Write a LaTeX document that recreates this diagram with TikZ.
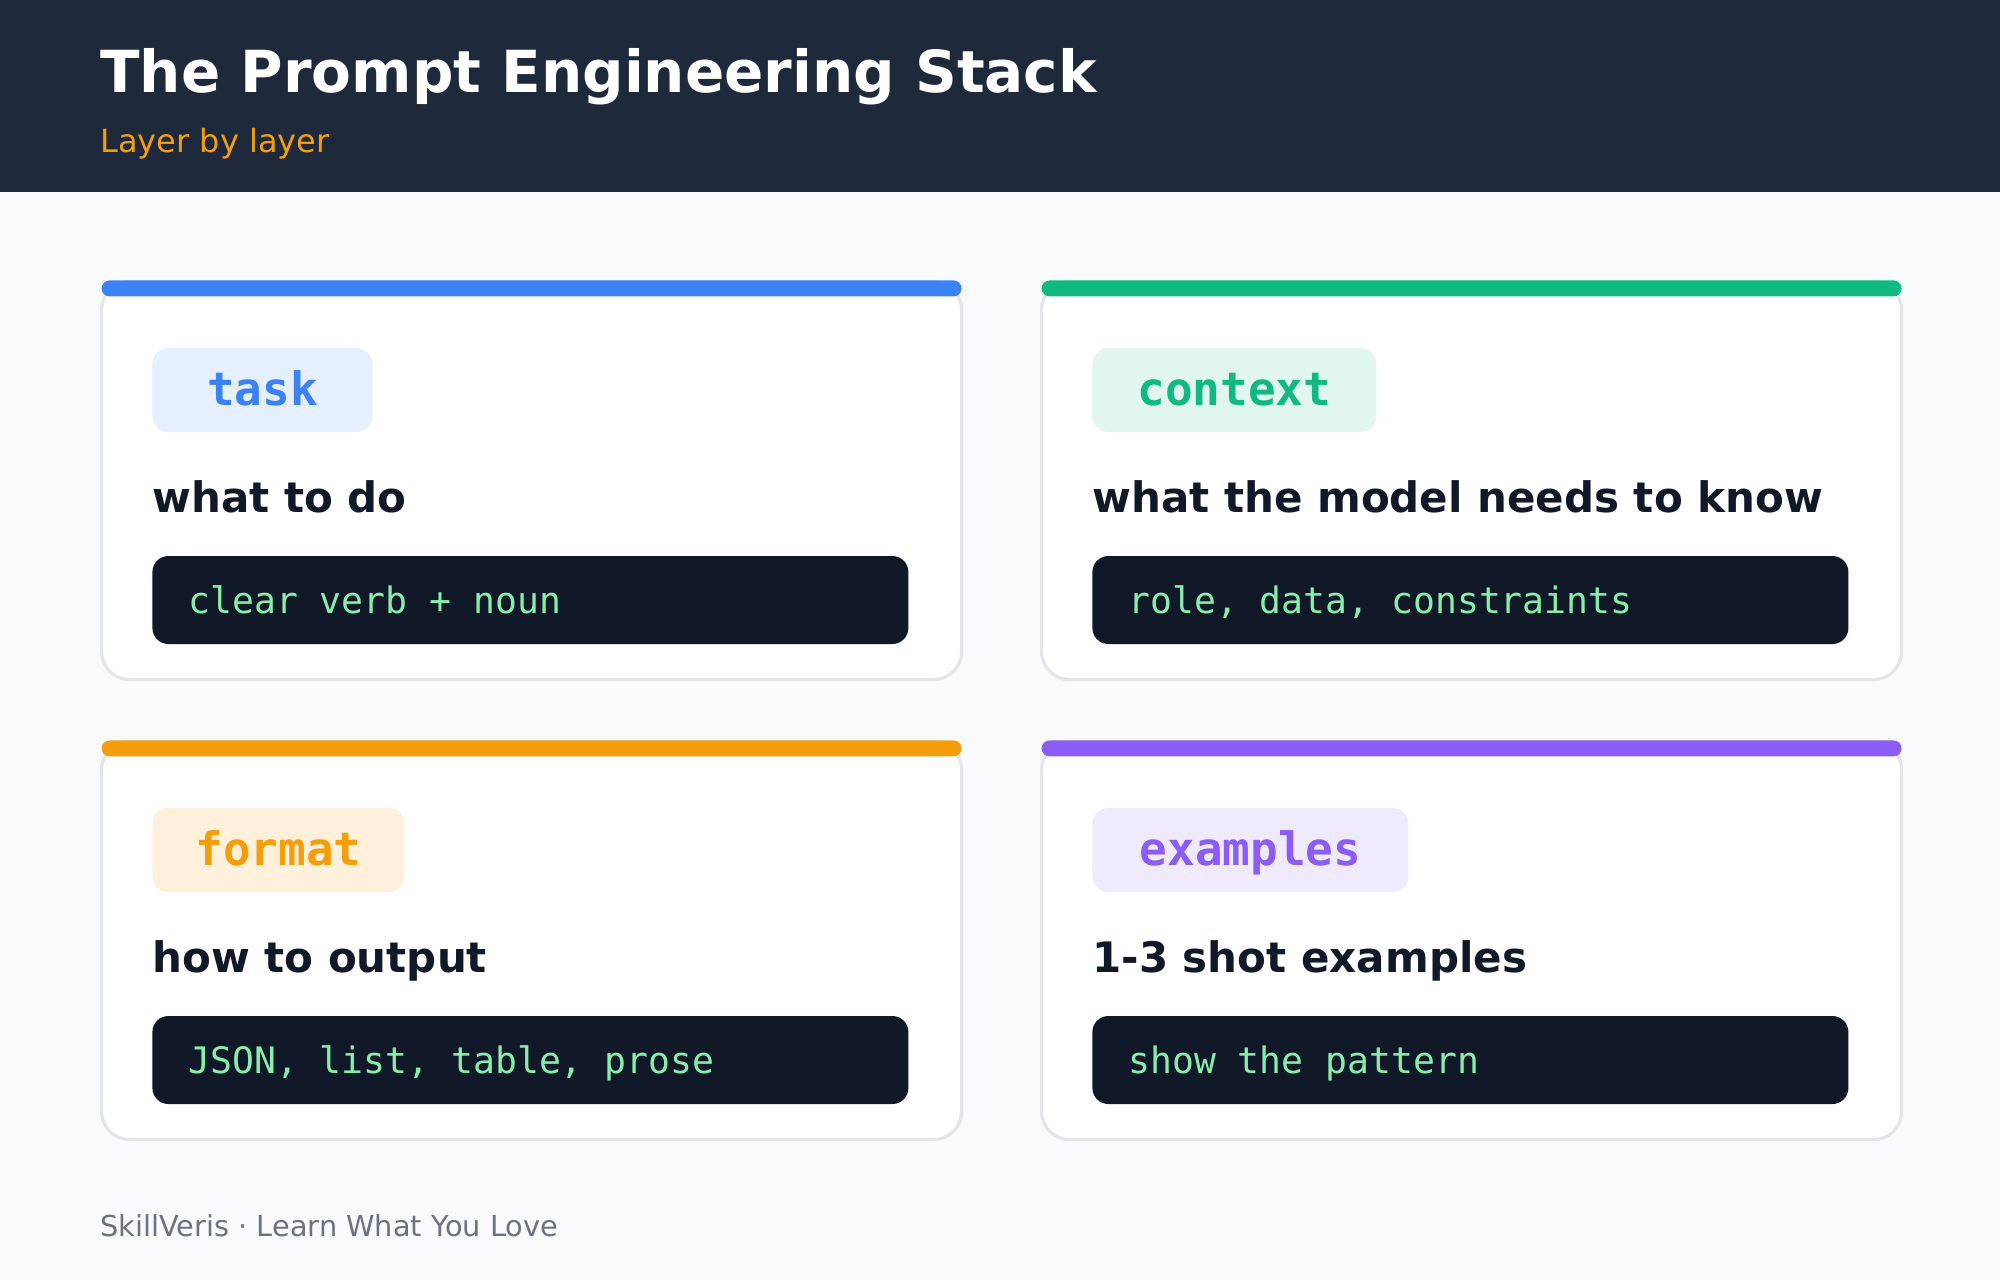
\documentclass[tikz,border=0pt]{standalone}
\usepackage{fontspec}
\setmainfont{DejaVu Sans}
\setmonofont{DejaVu Sans Mono}
\usetikzlibrary{positioning}
\definecolor{headbg}{HTML}{1E293B}
\definecolor{pagebg}{HTML}{F8FAFC}
\definecolor{cardline}{HTML}{E3E5E9}
\definecolor{codebg}{HTML}{111827}
\definecolor{codefg}{HTML}{86EFAC}
\definecolor{inktext}{HTML}{111827}
\definecolor{foot}{HTML}{6B7280}
\definecolor{subt}{HTML}{F59E0B}
\definecolor{cblue}{HTML}{3B82F6}
\definecolor{cgreen}{HTML}{10B981}
\definecolor{corange}{HTML}{F59E0B}
\definecolor{cpurple}{HTML}{8B5CF6}

\begin{document}
\begin{tikzpicture}[x=1pt,y=-1pt,
card/.style={draw=cardline,line width=1.6pt,fill=white,rounded corners=14pt,
  minimum width=430pt,minimum height=199pt,anchor=north west,inner sep=0pt},
bar/.style={rounded corners=4pt,minimum width=430pt,minimum height=8pt,
  anchor=north,inner sep=0pt},
tag/.style={rounded corners=8pt,minimum height=42pt,inner sep=0pt,anchor=west,
  font=\fontsize{23}{27}\selectfont\ttfamily\bfseries,text height=15pt,text depth=0pt},
head/.style={anchor=base west,inner sep=0pt,text=inktext,
  font=\fontsize{21}{25}\selectfont\bfseries},
code/.style={fill=codebg,rounded corners=8pt,minimum height=44pt,anchor=west,
  text width=342pt,align=flush left,inner xsep=18pt,inner ysep=0pt,text=codefg,
  font=\fontsize{18.2}{22}\selectfont\ttfamily,text height=13pt,text depth=0pt}]
\useasboundingbox[fill=pagebg] (0,0) rectangle (1000,640);
\fill[headbg] (0,0) rectangle (1000,96);
\node[anchor=base west,inner sep=0pt,text=white,font=\fontsize{29}{34}\selectfont\bfseries]
  (T) at (50,46) {The Prompt Engineering Stack};
\node[anchor=base west,inner sep=0pt,text=subt,font=\fontsize{16}{19}\selectfont]
  (S) at (50,76) {Layer by layer};
\node[card] (C1) at (50,140) {};
\node[card] (C2) at (520,140) {};
\node[card] (C3) at (50,370) {};
\node[card] (C4) at (520,370) {};
\node[bar,fill=cblue] (B1) at (C1.north) {};
\node[bar,fill=cgreen] (B2) at (C2.north) {};
\node[bar,fill=corange] (B3) at (C3.north) {};
\node[bar,fill=cpurple] (B4) at (C4.north) {};
\node[tag,fill=cblue!13!white,text=cblue,minimum width=110pt] (P1) at (76,195) {task};
\node[tag,fill=cgreen!13!white,text=cgreen,minimum width=142pt] (P2) at (546,195) {context};
\node[tag,fill=corange!15!white,text=corange,minimum width=126pt] (P3) at (76,425) {format};
\node[tag,fill=cpurple!13!white,text=cpurple,minimum width=158pt] (P4) at (546,425) {examples};
\node[head] (H1) at (76,256) {what to do};
\node[head] (H2) at (546,256) {what the model needs to know};
\node[head] (H3) at (76,486) {how to output};
\node[head] (H4) at (546,486) {1-3 shot examples};
\node[code] (K1) at (76,300) {clear verb + noun};
\node[code] (K2) at (546,300) {role, data, constraints};
\node[code] (K3) at (76,530) {JSON, list, table, prose};
\node[code] (K4) at (546,530) {show the pattern};
\node[anchor=base west,inner sep=0pt,text=foot,font=\fontsize{14.4}{17}\selectfont]
  (F) at (50,618) {SkillVeris · Learn What You Love};
\end{tikzpicture}
\end{document}
